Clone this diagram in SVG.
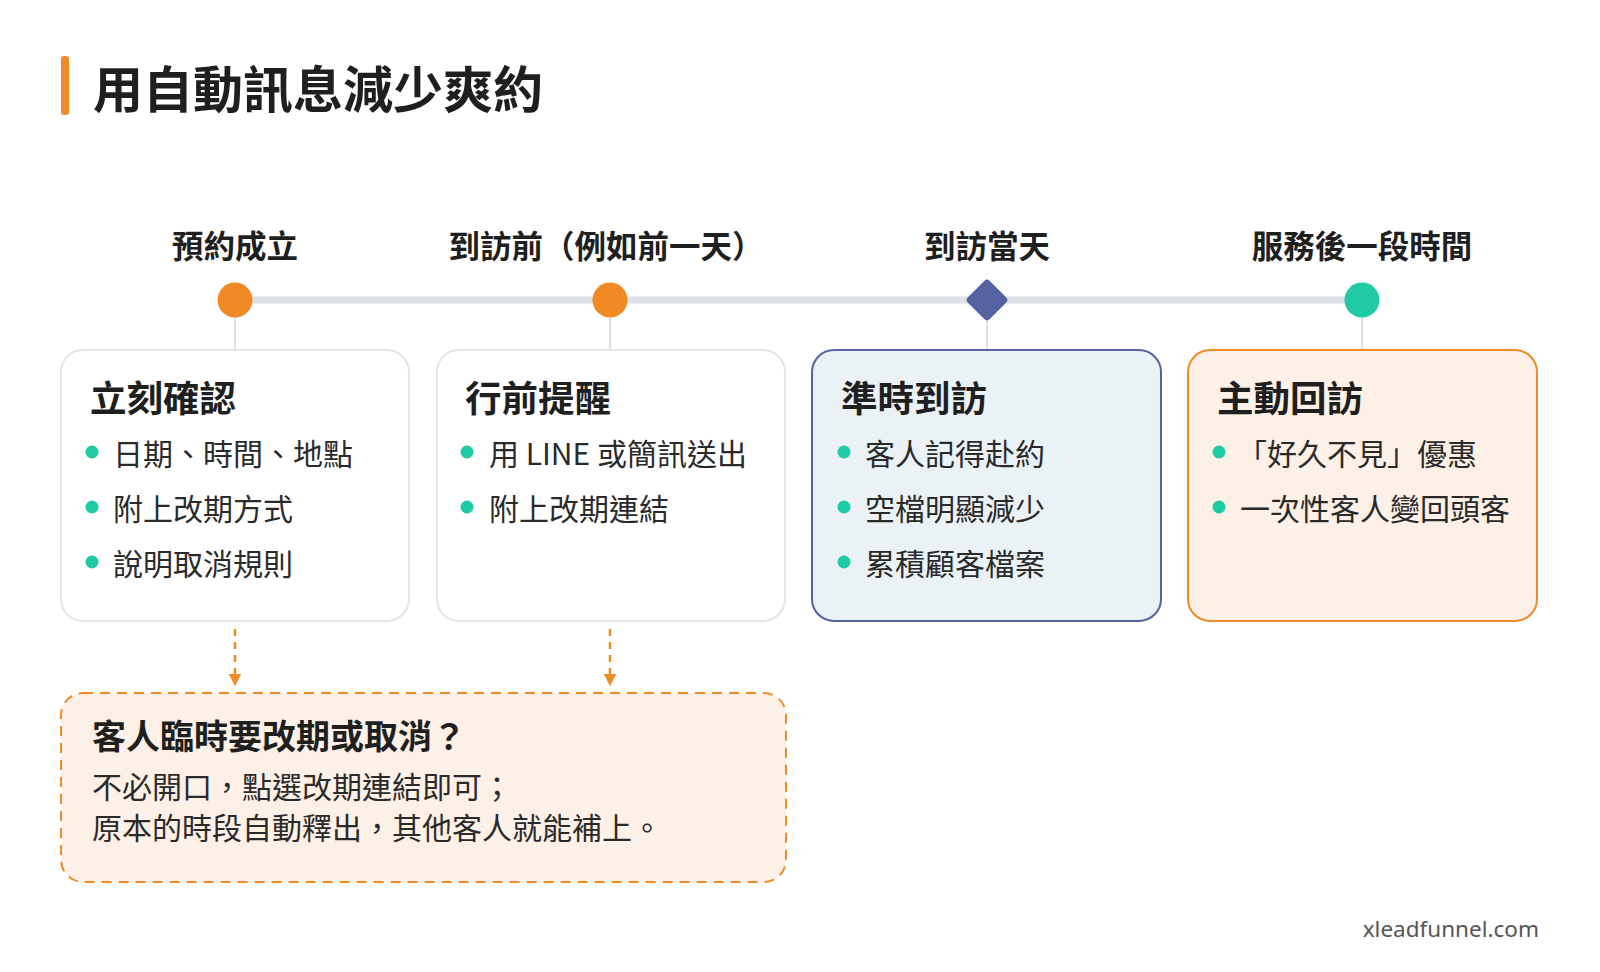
<svg xmlns="http://www.w3.org/2000/svg" width="1600" height="972" viewBox="0 0 1600 972">
<style>
text{font-family:"Noto Sans CJK TC","Noto Sans CJK SC",sans-serif;fill:#1f1f1f}
.ph{font-size:31.5px;font-weight:700;text-anchor:middle;dominant-baseline:central}
.bt{font-size:36.5px;font-weight:700;dominant-baseline:central}
.it{font-size:30px;dominant-baseline:central;fill:#2a2a2a}
.bul{fill:#1ecba5}
.card{fill:#fff;stroke:#e3e5ea;stroke-width:2}
.stem{stroke:#dde0e6;stroke-width:2}
.dash{stroke:#f08a24;stroke-width:2.5;stroke-dasharray:7 6;fill:none}
</style>
<defs><marker id="ah" viewBox="0 0 10 10" refX="5" refY="5" markerWidth="5" markerHeight="5" orient="auto"><path d="M0,0 L10,5 L0,10 z" fill="#f08a24"/></marker></defs>
<rect x="61" y="56" width="8" height="59" rx="3" fill="#f08a24"/>
<text x="93" y="86" style="font-size:50px;font-weight:700;dominant-baseline:central">用自動訊息減少爽約</text>
<g id="connectors">
<line x1="235" y1="300" x2="1362" y2="300" stroke="#dde0e6" stroke-width="7"/>
<line class="stem" x1="235" y1="300" x2="235" y2="350"/>
<line class="stem" x1="610" y1="300" x2="610" y2="350"/>
<line class="stem" x1="987" y1="300" x2="987" y2="350"/>
<line class="stem" x1="1362" y1="300" x2="1362" y2="350"/>
<line class="dash" x1="235" y1="629" x2="235" y2="680" marker-end="url(#ah)"/>
<line class="dash" x1="610" y1="629" x2="610" y2="680" marker-end="url(#ah)"/>
</g>
<g id="phases">
<text class="ph" x="235" y="244">預約成立</text>
<text class="ph" x="606" y="244">到訪前（例如前一天）</text>
<text class="ph" x="987" y="244">到訪當天</text>
<text class="ph" x="1362" y="244">服務後一段時間</text>
<circle cx="235" cy="300" r="17.5" fill="#f08a24"/>
<circle cx="610" cy="300" r="17.5" fill="#f08a24"/>
<rect x="971.5" y="284.5" width="31" height="31" rx="4" fill="#5563a3" transform="rotate(45 987 300)"/>
<circle cx="1362" cy="300" r="17.5" fill="#1ecba5"/>
</g>
<g id="card1">
<rect class="card" x="61" y="350" width="348" height="271" rx="22"/>
<text class="bt" x="90" y="396">立刻確認</text>
<circle class="bul" cx="92" cy="452" r="6.5"/><text class="it" x="113" y="452">日期、時間、地點</text>
<circle class="bul" cx="92" cy="507" r="6.5"/><text class="it" x="113" y="507">附上改期方式</text>
<circle class="bul" cx="92" cy="562" r="6.5"/><text class="it" x="113" y="562">說明取消規則</text>
</g>
<g id="card2">
<rect class="card" x="437" y="350" width="348" height="271" rx="22"/>
<text class="bt" x="465" y="396">行前提醒</text>
<circle class="bul" cx="467" cy="452" r="6.5"/><text class="it" x="489" y="452">用 LINE 或簡訊送出</text>
<circle class="bul" cx="467" cy="507" r="6.5"/><text class="it" x="489" y="507">附上改期連結</text>
</g>
<g id="card3">
<rect x="812" y="350" width="349" height="271" rx="22" fill="#ebf2f6" stroke="#5563a3" stroke-width="2"/>
<text class="bt" x="841" y="396">準時到訪</text>
<circle class="bul" cx="844" cy="452" r="6.5"/><text class="it" x="865" y="452">客人記得赴約</text>
<circle class="bul" cx="844" cy="507" r="6.5"/><text class="it" x="865" y="507">空檔明顯減少</text>
<circle class="bul" cx="844" cy="562" r="6.5"/><text class="it" x="865" y="562">累積顧客檔案</text>
</g>
<g id="card4">
<rect x="1188" y="350" width="349" height="271" rx="22" fill="#fdf1e7" stroke="#f08a24" stroke-width="2"/>
<text class="bt" x="1217" y="396">主動回訪</text>
<circle class="bul" cx="1219" cy="452" r="6.5"/><text class="it" x="1237" y="452">「好久不見」優惠</text>
<circle class="bul" cx="1219" cy="507" r="6.5"/><text class="it" x="1240" y="507">一次性客人變回頭客</text>
</g>
<g id="note">
<rect x="61" y="693" width="725" height="189" rx="22" fill="#fdf1e7" stroke="#f08a24" stroke-width="2" stroke-dasharray="10 7"/>
<text x="92" y="734" style="font-size:34px;font-weight:700;dominant-baseline:central">客人臨時要改期或取消？</text>
<text class="it" x="92" y="785">不必開口，點選改期連結即可；</text>
<text class="it" x="92" y="826">原本的時段自動釋出，其他客人就能補上。</text>
</g>
<text x="1539" y="928" style="font-size:22.5px;fill:#555;text-anchor:end;font-family:'Noto Sans',sans-serif;dominant-baseline:central">xleadfunnel.com</text>
</svg>
